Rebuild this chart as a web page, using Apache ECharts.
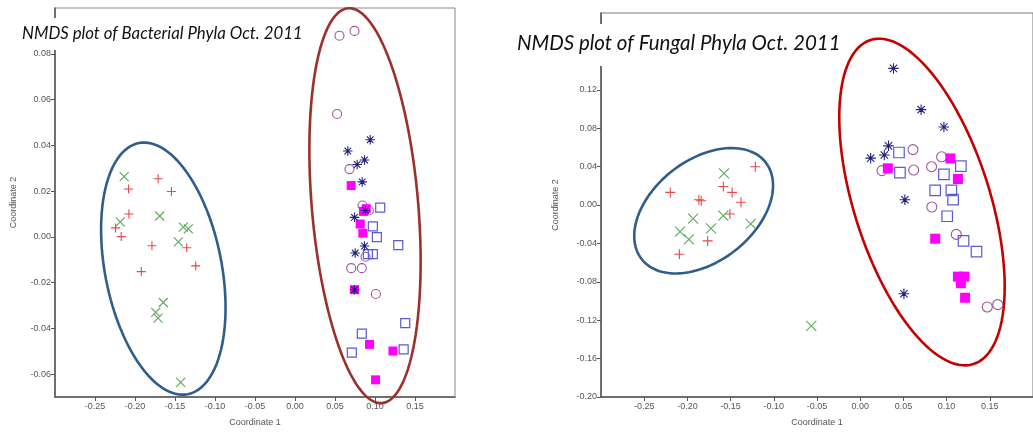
<!DOCTYPE html>
<html>
<head>
<meta charset="utf-8">
<script src="https://cdn.jsdelivr.net/npm/echarts@6/dist/echarts.min.js"></script>
<style>html,body{margin:0;padding:0;background:#fff}#c{width:1033px;height:432px}</style>
</head>
<body>
<div id="c"></div>
<script>
// ---------- Data: Bacterial phyla (left) ----------
const bactPlus = [[-0.171,0.0254],[-0.208,0.0209],[-0.1545,0.0198],[-0.2076,0.0100],[-0.2243,0.0039],[-0.2172,0.0001],[-0.1788,-0.0039],[-0.1353,-0.0048],[-0.1241,-0.0127],[-0.1921,-0.0152]];
const bactCross = [[-0.2135,0.0263],[-0.2185,0.0065],[-0.1692,0.0091],[-0.1395,0.0042],[-0.1333,0.0035],[-0.1458,-0.0022],[-0.1646,-0.0287],[-0.1742,-0.0330],[-0.1713,-0.0355],[-0.1429,-0.0636]];
const bactCircle = [[0.0556,0.0879],[0.0744,0.0900],[0.0526,0.0537],[0.0681,0.0296],[0.0844,0.0137],[0.0923,0.0115],[0.0881,-0.0087],[0.0702,-0.0137],[0.0835,-0.0137],[0.1011,-0.0250]];
const bactAsterisk = [[0.0940,0.0424],[0.0660,0.0375],[0.0869,0.0336],[0.0777,0.0316],[0.0840,0.0240],[0.0881,0.0115],[0.0744,0.0085],[0.0869,-0.0040],[0.0752,-0.0071],[0.0744,-0.0231]];
const bactOpenSquare = [[0.1065,0.0128],[0.0973,0.0046],[0.1023,-0.0001],[0.1291,-0.0036],[0.0911,-0.0076],[0.0973,-0.0076],[0.1378,-0.0377],[0.0835,-0.0423],[0.0710,-0.0506],[0.1358,-0.0492]];
const bactFilledSquare = [[0.0702,0.0224],[0.0856,0.0111],[0.0890,0.0123],[0.0815,0.0056],[0.0848,0.0016],[0.0744,-0.0231],[0.0931,-0.0470],[0.1224,-0.0499],[0.1007,-0.0625]];
// ellipse: [centerX, centerY, semiAxisX, semiAxisY, rotationDeg]
const bactEllipseBlue = [[-0.1646,-0.0139,0.0729,0.0559,11]];
const bactEllipseRed = [[0.0875,0.0136,0.0665,0.0866,4.9]];

// ---------- Data: Fungal phyla (right) ----------
const fungPlus = [[-0.2198,0.0131],[-0.1867,0.0055],[-0.1840,0.0044],[-0.1584,0.0193],[-0.1482,0.0131],[-0.1380,0.0028],[-0.1508,-0.0093],[-0.1214,0.0399],[-0.1765,-0.0374],[-0.2093,-0.0513]];
const fungCross = [[-0.1576,0.0330],[-0.1934,-0.0141],[-0.2085,-0.0278],[-0.1983,-0.0358],[-0.1727,-0.0244],[-0.1584,-0.0110],[-0.1267,-0.0196],[-0.0566,-0.1258]];
const fungCircle = [[0.0611,0.0577],[0.0942,0.0502],[0.0826,0.0399],[0.0619,0.0364],[0.0252,0.0358],[0.0829,-0.0021],[0.1112,-0.0306],[0.1471,-0.1062],[0.1592,-0.1038]];
const fungAsterisk = [[0.0385,0.1423],[0.0705,0.0993],[0.0969,0.0812],[0.0328,0.0616],[0.0279,0.0521],[0.0121,0.0488],[0.0517,0.0055],[0.0506,-0.0925]];
const fungOpenSquare = [[0.0449,0.0547],[0.0460,0.0337],[0.0969,0.0320],[0.1165,0.0405],[0.0868,0.0152],[0.1055,0.0152],[0.1075,0.0055],[0.1007,-0.0117],[0.1196,-0.0374],[0.1346,-0.0485]];
const fungFilledSquare = [[0.1044,0.0485],[0.0320,0.0382],[0.1131,0.0271],[0.0868,-0.0351],[0.1131,-0.0746],[0.1207,-0.0746],[0.1165,-0.0815],[0.1214,-0.0966]];
const fungEllipseBlue = [[-0.1812,-0.0060,0.0910,0.0528,37.9]];
const fungEllipseRed = [[0.0715,0.0031,0.0787,0.1771,17.6]];

const titles = ['NMDS plot of Bacterial Phyla Oct. 2011', 'NMDS plot of Fungal Phyla Oct. 2011'];
const xName = 'Coordinate 1';
const yName = 'Coordinate 2';

// ---------- Styles ----------
const PLUS = 'path://M5,0L5,10M0,5L10,5';
const CROSS = 'path://M0,0L10,10M10,0L0,10';
const AST = 'path://M5,0L5,10M0,5L10,5M1.5,1.5L8.5,8.5M8.5,1.5L1.5,8.5M4.3,4.3L5.7,4.3L5.7,5.7L4.3,5.7Z';
const labelStyle = {color:'#555', fontSize:9, fontFamily:'Liberation Sans, Arial, sans-serif', formatter: v => v.toFixed(2)};
const nameStyle = {color:'#555', fontSize:9, fontFamily:'Liberation Sans, Arial, sans-serif'};

function ellipseSeries(data, gi, color) {
  return {
    type:'custom', xAxisIndex:gi, yAxisIndex:gi, clip:false, z:1, silent:true,
    data:data, itemStyle:{color:color},
    encode:{x:0, y:1},
    renderItem:function(params, api){
      const c = api.coord([api.value(0), api.value(1)]);
      const s = api.size([api.value(2), api.value(3)]);
      const r = api.value(4) * Math.PI / 180;
      const pts = [];
      for (let i = 0; i < 120; i++) {
        const t = i / 120 * Math.PI * 2;
        const px = s[0] * Math.cos(t), py = s[1] * Math.sin(t);
        pts.push([c[0] + px*Math.cos(r) - py*Math.sin(r), c[1] - (px*Math.sin(r) + py*Math.cos(r))]);
      }
      return {type:'polygon', shape:{points:pts}, style:{fill:'none', stroke:api.visual('color'), lineWidth:2.6}};
    }
  };
}
function pts(data, gi, symbol, size, color, filled, bw) {
  return {
    type:'scatter', xAxisIndex:gi, yAxisIndex:gi, data:data, symbol:symbol, symbolSize:size, z:3,
    itemStyle:{color: filled ? color : 'rgba(0,0,0,0)', borderColor:color, borderWidth: bw, opacity:1},
    emphasis:{disabled:true}
  };
}

const chart = echarts.init(document.getElementById('c'), null, {renderer:'canvas'});
const axisLine = {show:true, onZero:false, lineStyle:{color:'#555', width:1.5}};
const axisTick = {show:true, length:4, lineStyle:{color:'#555'}};

chart.setOption({
  animation:false,
  backgroundColor:'#fff',
  title:[
    {text:titles[0], left:18, top:18, padding:[6,4,6,4], backgroundColor:'#fff', z:10,
     textStyle:{fontStyle:'italic', fontWeight:'normal', fontSize:16.8, lineHeight:20, color:'#111', fontFamily:'Lato, Open Sans, sans-serif'}},
    {text:titles[1], left:513, top:24, padding:[8,4,12,4], backgroundColor:'#fff', z:10,
     textStyle:{fontStyle:'italic', fontWeight:'normal', fontSize:20.5, lineHeight:22, color:'#111', fontFamily:'Lato, Open Sans, sans-serif'}}
  ],
  grid:[
    {left:55, top:8, width:400, height:392, show:true, borderColor:'#888', borderWidth:1, backgroundColor:'transparent'},
    {left:601, top:13, width:441, height:388, show:true, borderColor:'#777', borderWidth:1, backgroundColor:'transparent'}
  ],
  xAxis:[
    {gridIndex:0, type:'value', min:-0.30, max:0.20, interval:0.05, splitLine:{show:false},
     axisLine:axisLine, axisTick:axisTick, axisLabel:Object.assign({margin:5, showMinLabel:false, showMaxLabel:false}, labelStyle),
     name:xName, nameLocation:'middle', nameGap:21, nameTextStyle:nameStyle},
    {gridIndex:1, type:'value', min:-0.30, max:0.20, interval:0.05, splitLine:{show:false},
     axisLine:axisLine, axisTick:axisTick, axisLabel:Object.assign({margin:5, showMinLabel:false, showMaxLabel:false}, labelStyle),
     name:xName, nameLocation:'middle', nameGap:21, nameTextStyle:nameStyle}
  ],
  yAxis:[
    {gridIndex:0, type:'value', min:-0.07, max:0.10, splitNumber:8, minInterval:0.02, maxInterval:0.02, splitLine:{show:false},
     axisLine:axisLine, axisTick:axisTick, axisLabel:Object.assign({margin:4, showMinLabel:false, showMaxLabel:false}, labelStyle),
     name:yName, nameLocation:'middle', nameGap:37, nameRotate:90, nameTextStyle:nameStyle},
    {gridIndex:1, type:'value', min:-0.20, max:0.20, interval:0.04, splitLine:{show:false},
     axisLine:axisLine, axisTick:axisTick, axisLabel:Object.assign({margin:4, showMaxLabel:false}, labelStyle),
     name:yName, nameLocation:'middle', nameGap:41, nameRotate:90, nameTextStyle:nameStyle}
  ],
  series:[
    ellipseSeries(bactEllipseBlue, 0, '#2f5d8c'),
    ellipseSeries(bactEllipseRed, 0, '#9c302a'),
    pts(bactPlus, 0, PLUS, 9, '#e8474a', true, 1.1),
    pts(bactCross, 0, CROSS, 9, '#5aab5a', true, 1.1),
    pts(bactCircle, 0, 'circle', 9, '#9d569d', false, 1.1),
    pts(bactOpenSquare, 0, 'rect', 9, '#5a5ad6', false, 1.2),
    pts(bactFilledSquare, 0, 'rect', 9, '#ff00ff', true, 0),
    pts(bactAsterisk, 0, AST, 9.5, '#22227a', true, 1.1),

    ellipseSeries(fungEllipseBlue, 1, '#2f5d8c'),
    ellipseSeries(fungEllipseRed, 1, '#c40000'),
    pts(fungPlus, 1, PLUS, 10, '#e8474a', true, 1.1),
    pts(fungCross, 1, CROSS, 10, '#5aab5a', true, 1.1),
    pts(fungCircle, 1, 'circle', 10, '#9d569d', false, 1.1),
    pts(fungOpenSquare, 1, 'rect', 10.5, '#5a5ad6', false, 1.2),
    pts(fungFilledSquare, 1, 'rect', 10, '#ff00ff', true, 0),
    pts(fungAsterisk, 1, AST, 10.5, '#22227a', true, 1.1)
  ]
});
</script>
</body>
</html>
